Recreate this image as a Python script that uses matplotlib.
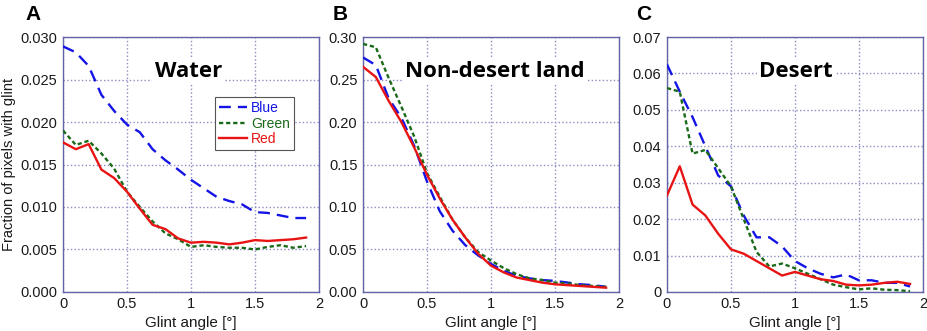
import numpy as np
import matplotlib
matplotlib.use("Agg")
import matplotlib.pyplot as plt

plt.rcParams['font.family'] = ['Liberation Sans', 'DejaVu Sans']

# Glint angle (deg)
angle = [0.0, 0.1, 0.2, 0.3, 0.4, 0.5, 0.6, 0.7, 0.8, 0.9,
         1.0, 1.1, 1.2, 1.3, 1.4, 1.5, 1.6, 1.7, 1.8, 1.9]

# A: Water
water_blue = [0.0289, 0.0282, 0.0266, 0.0232, 0.0213, 0.0197, 0.0188, 0.0168, 0.0155, 0.0144,
              0.0132, 0.0122, 0.0112, 0.0107, 0.0103, 0.0094, 0.0093, 0.0090, 0.0087, 0.0087]
water_green = [0.0190, 0.0173, 0.0178, 0.0163, 0.0145, 0.0118, 0.0100, 0.0083, 0.0069, 0.0062,
               0.0053, 0.0055, 0.0053, 0.0052, 0.0052, 0.0050, 0.0053, 0.0055, 0.0052, 0.0054]
water_red = [0.0176, 0.0168, 0.0174, 0.0144, 0.0134, 0.0118, 0.0098, 0.0079, 0.0074, 0.0063,
             0.0058, 0.0059, 0.0058, 0.0056, 0.0058, 0.0061, 0.0060, 0.0061, 0.0062, 0.0064]

# B: Non-desert land
land_blue = [0.276, 0.267, 0.228, 0.205, 0.172, 0.130, 0.095, 0.072, 0.055, 0.043,
             0.033, 0.025, 0.019, 0.016, 0.014, 0.013, 0.011, 0.009, 0.008, 0.006]
land_green = [0.292, 0.288, 0.252, 0.218, 0.183, 0.140, 0.112, 0.085, 0.064, 0.047,
              0.037, 0.028, 0.021, 0.016, 0.014, 0.011, 0.010, 0.008, 0.007, 0.006]
land_red = [0.265, 0.253, 0.225, 0.200, 0.170, 0.138, 0.110, 0.085, 0.064, 0.045,
            0.031, 0.023, 0.017, 0.014, 0.011, 0.009, 0.008, 0.007, 0.006, 0.005]

# C: Desert
desert_blue = [0.0625, 0.0550, 0.0480, 0.0400, 0.0320, 0.0290, 0.0210, 0.0150, 0.0150, 0.0125,
               0.0085, 0.0065, 0.0050, 0.0040, 0.0048, 0.0032, 0.0032, 0.0025, 0.0025, 0.0015]
desert_green = [0.0560, 0.0550, 0.0380, 0.0390, 0.0340, 0.0290, 0.0200, 0.0110, 0.0070, 0.0078,
                0.0065, 0.0050, 0.0035, 0.0020, 0.0013, 0.0007, 0.0010, 0.0006, 0.0005, 0.0002]
desert_red = [0.0265, 0.0345, 0.0240, 0.0210, 0.0160, 0.0117, 0.0105, 0.0085, 0.0065, 0.0045,
              0.0055, 0.0045, 0.0035, 0.0030, 0.0020, 0.0018, 0.0020, 0.0025, 0.0028, 0.0022]

panels = [
    ('A', 'Water', water_blue, water_green, water_red,
     [0, 0.005, 0.01, 0.015, 0.02, 0.025, 0.03],
     ['0.000', '0.005', '0.010', '0.015', '0.020', '0.025', '0.030'], 0.49),
    ('B', 'Non-desert land', land_blue, land_green, land_red,
     [0, 0.05, 0.1, 0.15, 0.2, 0.25, 0.3],
     ['0.00', '0.05', '0.10', '0.15', '0.20', '0.25', '0.30'], 0.515),
    ('C', 'Desert', desert_blue, desert_green, desert_red,
     [0, 0.01, 0.02, 0.03, 0.04, 0.05, 0.06, 0.07],
     ['0', '0.01', '0.02', '0.03', '0.04', '0.05', '0.06', '0.07'], 0.505),
]

c_blue = '#1414e6'
c_green = '#1a6a1a'
c_red = '#e81414'
frame = '#6464a8'

fig = plt.figure(figsize=(9.27, 3.31), dpi=100)
lefts = [0.068, 0.3916, 0.7195]
width = 0.276

for i, (letter, title, b, g, r, yt, ytl, tx) in enumerate(panels):
    ax = fig.add_axes([lefts[i], 0.118, width, 0.770])
    ax.plot(angle, b, color=c_blue, lw=1.7, dashes=(5, 3), label='Blue', zorder=3)
    ax.plot(angle, g, color=c_green, lw=1.7, dashes=(1.8, 1.2), label='Green', zorder=3)
    ax.plot(angle, r, color=c_red, lw=1.7, label='Red', zorder=3)
    ax.set_xlim(0, 2)
    ax.set_ylim(yt[0], yt[-1])
    ax.set_xticks([0, 0.5, 1, 1.5, 2])
    ax.set_xticklabels(['0', '0.5', '1', '1.5', '2'])
    ax.set_yticks(yt)
    ax.set_yticklabels(ytl)
    ax.tick_params(length=0, labelsize=10.5, pad=4, colors='#1a1a1a')
    ax.grid(True, color='#8c8cc4', linestyle=':', linewidth=1.0)
    for s in ax.spines.values():
        s.set_color(frame)
        s.set_linewidth(1.0)
    ax.set_xlabel('Glint angle [°]', fontsize=11, color='#1a1a1a', labelpad=3)
    if i == 0:
        ax.set_ylabel('Fraction of pixels with glint', fontsize=10.5, color='#1a1a1a', labelpad=3)
        leg = ax.legend(loc='upper left', bbox_to_anchor=(0.594, 0.765), borderaxespad=0,
                        fontsize=10, handlelength=2.0, handletextpad=0.3, borderpad=0.3,
                        labelspacing=0.1, fancybox=False, framealpha=1)
        leg.get_frame().set_edgecolor('#555555')
        leg.get_frame().set_linewidth(0.8)
        for txt, col in zip(leg.get_texts(), [c_blue, c_green, c_red]):
            txt.set_color(col)
    ax.text(tx, 0.863, title, transform=ax.transAxes, ha='center', va='center',
            fontsize=16, fontweight='bold', family=['Open Sans', 'DejaVu Sans'],
            bbox=dict(facecolor='white', edgecolor='none', pad=2), zorder=4)
    fig.text(lefts[i] - 0.041 if i == 0 else lefts[i] - 0.033, 0.955, letter,
             fontsize=15, fontweight='bold', ha='left', va='center')

fig.savefig('out.png', dpi=100)
